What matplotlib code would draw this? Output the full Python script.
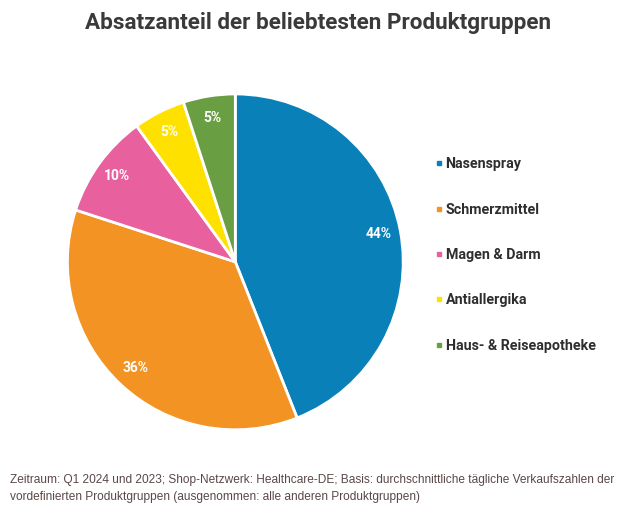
import matplotlib
matplotlib.use("Agg")
import matplotlib.pyplot as plt
from matplotlib.lines import Line2D

categories = ["Nasenspray", "Schmerzmittel", "Magen & Darm", "Antiallergika", "Haus- & Reiseapotheke"]
values = [44, 36, 10, 5, 5]
colors = ["#0a80b8", "#f29323", "#e9609f", "#ffe100", "#6a9e43"]

title = "Absatzanteil der beliebtesten Produktgruppen"
footnote = ("Zeitraum: Q1 2024 und 2023; Shop-Netzwerk: Healthcare-DE; Basis: durchschnittliche tägliche Verkaufszahlen der\n"
            "vordefinierten Produktgruppen (ausgenommen: alle anderen Produktgruppen)")

fig = plt.figure(figsize=(6.3, 5.07), dpi=100)
ax = fig.add_axes([0.107, 0.152, 0.533, 0.663])

wedges, texts, autotexts = ax.pie(
    values, colors=colors, startangle=90, counterclock=False,
    autopct=lambda p: f"{p:.0f}%", pctdistance=0.87,
    wedgeprops=dict(edgecolor="white", linewidth=2),
    textprops=dict(color="white", fontsize=10, fontweight="bold", family="Roboto"))
ax.set_xlim(-1, 1)
ax.set_ylim(-1, 1)
ax.set_aspect("equal")

fig.text(0.505, 0.955, title, ha="center", va="center", fontsize=16.2,
         fontweight="bold", color="#3a3a3a", family="Roboto")

handles = [Line2D([0], [0], marker="s", linestyle="none", markersize=3.5,
                  markerfacecolor=c, markeredgecolor=c) for c in colors]
leg = fig.legend(handles, categories, loc="center left", bbox_to_anchor=(0.672, 0.497),
                 frameon=False, handlelength=0.4, handletextpad=0.25,
                 labelspacing=2.2, prop=dict(family="Roboto", weight="bold", size=10.3))
for t in leg.get_texts():
    t.set_color("#2e2e2e")

fig.text(0.016, 0.008, footnote, ha="left", va="bottom", fontsize=8.6,
         color="#5a4848", family=["Liberation Sans Narrow", "Liberation Sans"],
         linespacing=1.5)

fig.savefig("out.png", dpi=100)
